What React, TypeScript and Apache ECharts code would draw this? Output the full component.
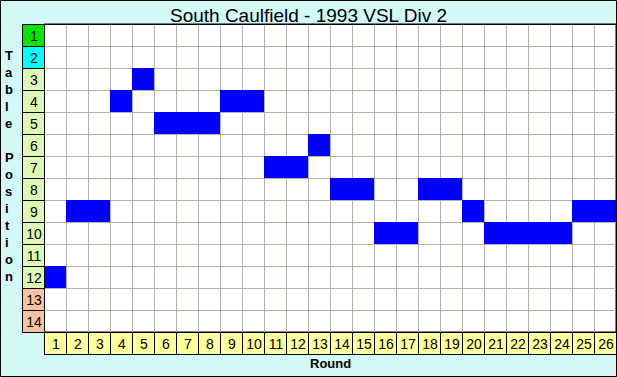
import React, { useEffect, useRef } from 'react';
import * as echarts from 'echarts';

const titleText = 'South Caulfield - 1993 VSL Div 2';
const yAxisTitle = 'Table Position';
const xAxisTitle = 'Round';
const rounds = [1, 2, 3, 4, 5, 6, 7, 8, 9, 10, 11, 12, 13, 14, 15, 16, 17, 18, 19, 20, 21, 22, 23, 24, 25, 26];
const positions = [12, 9, 9, 4, 3, 5, 5, 5, 4, 4, 7, 7, 6, 8, 8, 10, 10, 8, 8, 9, 10, 10, 10, 10, 9, 9];
const tablePositions = [1, 2, 3, 4, 5, 6, 7, 8, 9, 10, 11, 12, 13, 14];
const positionColors = [
  '#00e800', '#00ffff',
  '#dcf8b4', '#dcf8b4', '#dcf8b4', '#dcf8b4', '#dcf8b4', '#dcf8b4', '#dcf8b4', '#dcf8b4', '#dcf8b4', '#dcf8b4',
  '#f6c39c', '#f6c39c',
];
const roundColor = '#ffff9c';
const barColor = '#0000ff';
const bgColor = '#d2f8f8';
const gridLineColor = '#b4b0a4';

const FONT = '"Liberation Sans", Arial, sans-serif';

function cellRect(api: any, x0: number, y0: number, x1: number, y1: number) {
  const a = api.coord([x0, y0]);
  const b = api.coord([x1, y1]);
  const x = Math.round(Math.min(a[0], b[0]));
  const y = Math.round(Math.min(a[1], b[1]));
  const w = Math.round(Math.abs(b[0] - a[0]));
  const h = Math.round(Math.abs(b[1] - a[1]));
  return { x, y, w, h };
}

export default function App() {
  const ref = useRef<HTMLDivElement>(null);
  useEffect(() => {
    if (!ref.current) return;
    const chart = echarts.init(ref.current, null, { renderer: 'svg' });
    const nR = rounds.length;
    const nP = tablePositions.length;
    chart.setOption({
      animation: false,
      backgroundColor: bgColor,
      grid: {
        left: 44, top: 24, width: 572, height: 308,
        show: true, backgroundColor: '#ffffff', borderColor: '#000000', borderWidth: 1,
      },
      xAxis: {
        type: 'value', min: 0, max: nR, interval: 1,
        axisLine: { show: false }, axisTick: { show: false }, axisLabel: { show: false },
        splitLine: { show: true, lineStyle: { color: gridLineColor, width: 1 } },
      },
      yAxis: {
        type: 'value', min: 0, max: nP, interval: 1, inverse: true,
        axisLine: { show: false }, axisTick: { show: false }, axisLabel: { show: false },
        splitLine: { show: true, lineStyle: { color: gridLineColor, width: 1 } },
      },
      title: {
        text: titleText, left: 'center', top: 1,
        textStyle: { fontFamily: FONT, fontSize: 19, fontWeight: 'normal', color: '#000' },
      },
      graphic: [
        {
          type: 'text', left: 5, top: 47,
          style: {
            text: yAxisTitle.split('').join('\n'),
            font: 'bold 13px ' + FONT, fill: '#000', align: 'center', lineHeight: 17,
          },
        },
        {
          type: 'text', left: 310, top: 357,
          style: { text: xAxisTitle, font: 'bold 13px ' + FONT, fill: '#000' },
        },
        {
          type: 'rect', shape: { x: 0.5, y: 0.5, width: 616, height: 376 },
          style: { fill: 'none', stroke: '#000', lineWidth: 1 }, z: 100,
        },
        {
          type: 'line', shape: { x1: 22, y1: 24.5, x2: 616, y2: 24.5 },
          style: { stroke: '#000', lineWidth: 1 }, z: 100,
        },
      ],
      series: [
        {
          type: 'custom', name: 'team', coordinateSystem: 'cartesian2d', z: 3,
          data: rounds.map((r, i) => [r - 0.5, positions[i] - 0.5, r, positions[i]]),
          encode: { x: 0, y: 1 },
          renderItem: (params: any, api: any) => {
            const r = api.value(2);
            const p = api.value(3);
            const c = cellRect(api, r - 1, p - 1, r, p);
            return { type: 'rect', shape: { x: c.x, y: c.y, width: c.w, height: c.h }, style: { fill: barColor } };
          },
        },
        {
          type: 'custom', name: 'positions', coordinateSystem: 'cartesian2d', z: 4, clip: false,
          data: tablePositions.map((p) => [-0.5, p - 0.5, p]),
          encode: { x: 0, y: 1 },
          renderItem: (params: any, api: any) => {
            const p = api.value(2);
            const c = cellRect(api, -1, p - 1, 0, p);
            return {
              type: 'group',
              children: [
                { type: 'rect', shape: { x: c.x + 0.5, y: c.y + 0.5, width: c.w, height: c.h }, style: { fill: positionColors[p - 1], stroke: '#000', lineWidth: 1 } },
                { type: 'text', style: { text: String(p), x: c.x + c.w / 2 + 1, y: c.y + c.h / 2 + 1, align: 'center', verticalAlign: 'middle', font: '14px ' + FONT, fill: '#000' } },
              ],
            };
          },
        },
        {
          type: 'custom', name: 'rounds', coordinateSystem: 'cartesian2d', z: 4, clip: false,
          data: rounds.map((r) => [r - 0.5, nP + 0.5, r]),
          encode: { x: 0, y: 1 },
          renderItem: (params: any, api: any) => {
            const r = api.value(2);
            const c = cellRect(api, r - 1, nP, r, nP + 1);
            return {
              type: 'group',
              children: [
                { type: 'rect', shape: { x: c.x + 0.5, y: c.y + 0.5, width: c.w, height: c.h }, style: { fill: roundColor, stroke: '#000', lineWidth: 1 } },
                { type: 'text', style: { text: String(r), x: c.x + c.w / 2 + 1, y: c.y + c.h / 2 + 1, align: 'center', verticalAlign: 'middle', font: '14px ' + FONT, fill: '#000' } },
              ],
            };
          },
        },
      ],
    });
    return () => chart.dispose();
  }, []);
  return <div ref={ref} style={{ position: 'fixed', left: 0, top: 0, width: 617, height: 377 }} />;
}
